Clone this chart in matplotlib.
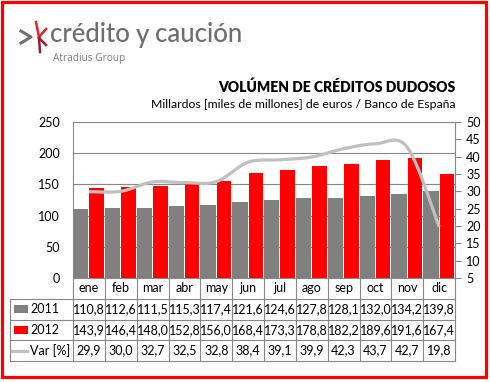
import matplotlib
matplotlib.use("Agg")
import matplotlib.pyplot as plt
from matplotlib.patches import Rectangle
from matplotlib.lines import Line2D
import numpy as np

plt.rcParams['font.family'] = ['Lato', 'DejaVu Sans']

months = ["ene", "feb", "mar", "abr", "may", "jun", "jul", "ago", "sep", "oct", "nov", "dic"]
v2011 = [110.8, 112.6, 111.5, 115.3, 117.4, 121.6, 124.6, 127.8, 128.1, 132.0, 134.2, 139.8]
v2012 = [143.9, 146.4, 148.0, 152.8, 156.0, 168.4, 173.3, 178.8, 182.2, 189.6, 191.6, 167.4]
var_pct = [29.9, 30.0, 32.7, 32.5, 32.8, 38.4, 39.1, 39.9, 42.3, 43.7, 42.7, 19.8]
series_names = ["2011", "2012", "Var [%]"]
left_ticks = [0, 50, 100, 150, 200, 250]
right_ticks = [5, 10, 15, 20, 25, 30, 35, 40, 45, 50]

W, H = 490, 382
fig = plt.figure(figsize=(W / 100, H / 100), dpi=100)
fig.patch.set_facecolor("white")

def fx(x):
    return x / W

def fy(y):
    return 1 - y / H

GRAY = "#808080"
RED = "#FF0000"
LINEC = "#C0C0C0"
GRID = "#878787"

# plot area geometry (pixels)
PL, PR, PT, PB = 73, 455, 122, 278
ax = fig.add_axes([fx(PL), fy(PB), (PR - PL) / W, (PB - PT) / H])
x = np.arange(len(months))
ax.bar(x - 0.257, v2011, width=0.485, color=GRAY, zorder=2)
ax.bar(x + 0.245, v2012, width=0.455, color=RED, zorder=2)
ax.set_xlim(-0.5, 11.5)
ax.set_ylim(0, 250)
ax.set_yticks(left_ticks)
ax.set_xticks([])
ax.tick_params(axis="y", length=0, pad=9.5, labelsize=9, labelcolor="#000000")
ax.yaxis.grid(True, color=GRID, linewidth=0.8, zorder=0)
ax.set_axisbelow(True)
for s in ax.spines.values():
    s.set_color(GRID)
    s.set_linewidth(0.8)

ax2 = ax.twinx()
ax2.set_ylim(5, 50)
ax2.set_yticks(right_ticks)
ax2.tick_params(axis="y", direction="out", length=4, width=0.8, color=GRID, pad=4, labelsize=9)
for s in ax2.spines.values():
    s.set_visible(False)

# smoothed line (Excel-like bezier smoothing), in pixel-proportional coords
sx = (PR - PL) / 12.0
sy = (PB - PT) / 45.0
P = np.column_stack([x * sx, (np.array(var_pct) - 5) * sy])
n = len(P)
pts = []
for i in range(n - 1):
    p0 = P[max(i - 1, 0)]
    p1 = P[i]
    p2 = P[i + 1]
    p3 = P[min(i + 2, n - 1)]
    c1 = p1 + (p2 - p0) / 6.0
    c2 = p2 - (p3 - p1) / 6.0
    t = np.linspace(0, 1, 25)[:, None]
    seg = (1 - t) ** 3 * p1 + 3 * (1 - t) ** 2 * t * c1 + 3 * (1 - t) * t ** 2 * c2 + t ** 3 * p2
    pts.append(seg if i == 0 else seg[1:])
pts = np.vstack(pts)
ax2.plot(pts[:, 0] / sx, pts[:, 1] / sy + 5, color=LINEC, linewidth=2.3, solid_capstyle="butt", zorder=3)

# data table
TL, TB = 10, 361
tab = fig.add_axes([fx(TL), fy(TB), (PR - TL) / W, (TB - PB) / H])
tab.set_axis_off()
catw = (PR - PL) / 12.0
xleft = -0.5 - (PL - TL) / catw
tab.set_xlim(xleft, 11.5)
tab.set_ylim(4, 0)
lw = 0.8
for r in [1, 2, 3, 4]:
    tab.plot([xleft, 11.5], [r, r], color=GRID, lw=lw, clip_on=False)
for k in range(13):
    tab.plot([-0.5 + k, -0.5 + k], [0, 4], color=GRID, lw=lw, clip_on=False)
tab.plot([xleft, xleft], [1, 4], color=GRID, lw=lw, clip_on=False)

fs = 9
for i, m in enumerate(months):
    tab.text(i, 0.5, m, ha="center", va="center", fontsize=fs)
for row, vals in enumerate([v2011, v2012, var_pct], start=1):
    for i, v in enumerate(vals):
        tab.text(i, row + 0.5, f"{v:.1f}".replace(".", ","), ha="center", va="center", fontsize=fs)

rowh = (TB - PB) / 4.0
for row, name in enumerate(series_names, start=1):
    yc = PB + rowh * (row + 0.5)
    fig.text(fx(30), fy(yc), name, ha="left", va="center", fontsize=fs)
    if row < 3:
        col = GRAY if row == 1 else RED
        fig.add_artist(Rectangle((fx(14), fy(yc + 4)), 14 / W, 8 / H, transform=fig.transFigure,
                                 facecolor=col, edgecolor="none"))
    else:
        fig.add_artist(Line2D([fx(12), fx(27)], [fy(yc), fy(yc)], transform=fig.transFigure,
                              color=LINEC, linewidth=2.3))

# titles
fig.text(fx(455), fy(87), "VOLÚMEN DE CRÉDITOS DUDOSOS", ha="right", va="center",
         fontsize=10, fontweight="heavy")
fig.text(fx(455), fy(104), "Millardos [miles de millones] de euros / Banco de España", ha="right",
         va="center", fontsize=8.8)

# logo
logo_kw = dict(ha="left", va="center", fontsize=18.5, color="#6E6E6E", fontweight="medium")
fig.text(fx(50), fy(35), "crédito", **logo_kw)
fig.text(fx(136), fy(35), "y", **logo_kw)
fig.text(fx(155), fy(35), "caución", **logo_kw)
fig.text(fx(53), fy(58), "Atradius Group", ha="left", va="center", fontsize=7.3,
         color="#7A7A7A", family=["Open Sans", "DejaVu Sans"])
fig.add_artist(Line2D([fx(21), fx(31), fx(21)], [fy(31), fy(37), fy(43)], transform=fig.transFigure,
                      color="#707070", linewidth=2.2))
for (x0, y0, x1, y1, c) in [(39, 37, 36, 22, "#E8222A"), (39, 37, 46, 29, "#E8222A"),
                            (39, 38, 46, 45, "#9E1B2E"), (39, 38, 40, 52, "#9E1B2E")]:
    fig.add_artist(Line2D([fx(x0), fx(x1)], [fy(y0), fy(y1)], transform=fig.transFigure,
                          color=c, linewidth=1.8))

# red frame
fig.add_artist(Rectangle((fx(1.5), fy(376.5)), 484 / W, 375 / H, transform=fig.transFigure,
                         facecolor="none", edgecolor=RED, linewidth=2.3))

fig.savefig("out.png", dpi=100, facecolor="white")
